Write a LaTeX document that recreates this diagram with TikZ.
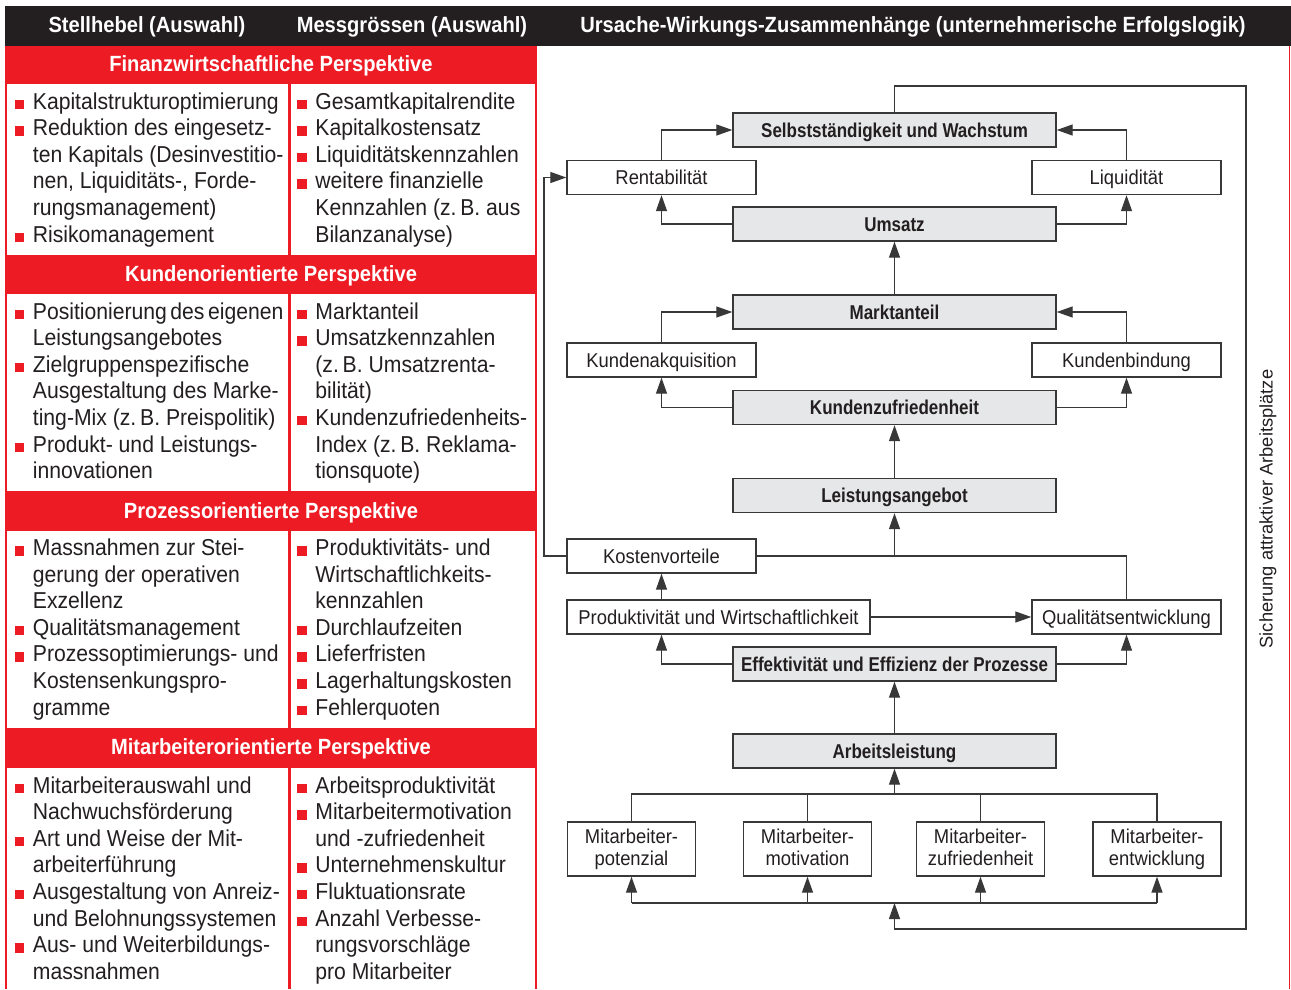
\documentclass[tikz,border=0pt]{standalone}
\usepackage{fontspec}
\setmainfont{Liberation Sans}
\newfontfamily\tabfont[FakeStretch=0.92]{Liberation Sans}
\newfontfamily\headfont[FakeStretch=0.915]{Liberation Sans}
\newfontfamily\dgfont[FakeStretch=0.92]{Liberation Sans}
\newfontfamily\dgbold[FakeStretch=0.85]{Liberation Sans}
\usetikzlibrary{arrows.meta}
\definecolor{hebred}{HTML}{ED1C24}
\definecolor{hdblack}{HTML}{231F20}
\definecolor{boxgray}{HTML}{E6E7E8}
\definecolor{linegray}{HTML}{383838}
\newcommand{\rsq}{\textcolor{hebred}{\rule{9.5pt}{9.5pt}}}
\newcommand{\itemlist}[1]{\begin{tabular}[t]{@{}p{18.2pt}@{}l@{}}#1\end{tabular}}
\begin{document}
\begin{tikzpicture}[x=1pt,y=-1pt,
  hdtext/.style={text=white, inner sep=0pt, anchor=base,
    font=\headfont\bfseries\fontsize{22}{26}\selectfont},
  cell/.style={anchor=base west, inner sep=0pt, text=hdblack,
    font=\tabfont\fontsize{23}{26.6}\selectfont},
  gbox/.style={draw=linegray, line width=1.4pt, fill=boxgray,
    minimum width=323pt, minimum height=34pt, inner sep=0pt,
    text height=14pt, text depth=0pt, text=hdblack,
    font=\dgbold\bfseries\fontsize{20}{22}\selectfont},
  wbox/.style={draw=linegray, line width=1.4pt, fill=white,
    minimum width=189pt, minimum height=34pt, inner sep=0pt,
    text height=14pt, text depth=0pt, text=hdblack,
    font=\dgfont\fontsize{20}{22}\selectfont},
  mbox/.style={draw=linegray, line width=1.4pt, fill=white,
    minimum width=128pt, minimum height=54pt, inner sep=0pt,
    align=center, text=hdblack,
    font=\dgfont\fontsize{20}{22}\selectfont},
  conn/.style={draw=linegray, line width=1.3pt},
  arr/.style={conn, -{Triangle[length=16pt,width=11pt]}}
]
\useasboundingbox (0,0) rectangle (1291,989);
\fill[white] (0,0) rectangle (1291,989);

% header bar
\fill[hdblack] (5,6) rectangle (1291,46);
\node[hdtext] (hStell) at (147,32.5) {Stellhebel (Auswahl)};
\node[hdtext] (hMess) at (412,32.5) {Messgrössen (Auswahl)};
\node[hdtext] (hUrs) at (913,32.5) {Ursache-Wirkungs-Zusammenhänge (unternehmerische Erfolgslogik)};

% left table: red panel with white cells
\fill[hebred] (5,46) rectangle (537,989);
\foreach \ya/\yb in {84/255, 294/491, 531/728, 768/989} {
  \fill[white] (7,\ya) rectangle (288,\yb);
  \fill[white] (290.5,\ya) rectangle (535,\yb);
}
\draw[hebred, line width=1pt] (1289.5,46) -- (1289.5,989);

\node[hdtext] (bFin) at (271,71) {Finanzwirtschaftliche Perspektive};
\node[hdtext] (bKun) at (271,281) {Kundenorientierte Perspektive};
\node[hdtext] (bPro) at (271,518) {Prozessorientierte Perspektive};
\node[hdtext] (bMit) at (271,754.5) {Mitarbeiterorientierte Perspektive};

% financial perspective
\node[cell] (fL) at (14.5,109) {\itemlist{
\rsq & Kapitalstrukturoptimierung\\
\rsq & Reduktion des eingesetz-\\
& ten Kapitals (Desinvestitio-\\
& nen, Liquiditäts-, Forde-\\
& rungsmanagement)\\
\rsq & Risikomanagement}};
\node[cell] (fR) at (297,109) {\itemlist{
\rsq & Gesamtkapitalrendite\\
\rsq & Kapitalkostensatz\\
\rsq & Liquiditätskennzahlen\\
\rsq & weitere finanzielle\\
& Kennzahlen (z.\,B. aus\\
& Bilanzanalyse)}};

% customer perspective
\node[cell] (kL) at (14.5,319) {\itemlist{
\rsq & Positionierung\hspace{3.5pt}des\hspace{3.5pt}eigenen\\
& Leistungsangebotes\\
\rsq & Zielgruppenspezifische\\
& Ausgestaltung des Marke-\\
& ting-Mix (z.\,B. Preispolitik)\\
\rsq & Produkt- und Leistungs-\\
& innovationen}};
\node[cell] (kR) at (297,319) {\itemlist{
\rsq & Marktanteil\\
\rsq & Umsatzkennzahlen\\
& (z.\,B. Umsatzrenta-\\
& bilität)\\
\rsq & Kundenzufriedenheits-\\
& Index (z.\,B. Reklama-\\
& tionsquote)}};

% process perspective
\node[cell] (pL) at (14.5,555.5) {\itemlist{
\rsq & Massnahmen zur Stei-\\
& gerung der operativen\\
& Exzellenz\\
\rsq & Qualitätsmanagement\\
\rsq & Prozessoptimierungs- und\\
& Kostensenkungspro-\\
& gramme}};
\node[cell] (pR) at (297,555.5) {\itemlist{
\rsq & Produktivitäts- und\\
& Wirtschaftlichkeits-\\
& kennzahlen\\
\rsq & Durchlaufzeiten\\
\rsq & Lieferfristen\\
\rsq & Lagerhaltungskosten\\
\rsq & Fehlerquoten}};

% employee perspective
\node[cell] (mL) at (14.5,793) {\itemlist{
\rsq & Mitarbeiterauswahl und\\
& Nachwuchsförderung\\
\rsq & Art und Weise der Mit-\\
& arbeiterführung\\
\rsq & Ausgestaltung von Anreiz-\\
& und Belohnungssystemen\\
\rsq & Aus- und Weiterbildungs-\\
& massnahmen}};
\node[cell] (mR) at (297,793) {\itemlist{
\rsq & Arbeitsproduktivität\\
\rsq & Mitarbeitermotivation\\
& und -zufriedenheit\\
\rsq & Unternehmenskultur\\
\rsq & Fluktuationsrate\\
\rsq & Anzahl Verbesse-\\
& rungsvorschläge\\
& pro Mitarbeiter}};

% cause-and-effect chain
\node[gbox] (sw)  at (894.5,130)   {Selbstständigkeit und Wachstum};
\node[gbox] (ums) at (894.5,224)   {Umsatz};
\node[gbox] (mkt) at (894.5,312)   {Marktanteil};
\node[gbox] (kzf) at (894.5,407.5) {Kundenzufriedenheit};
\node[gbox] (lst) at (894.5,495.5) {Leistungsangebot};
\node[gbox] (eff) at (894.5,664)   {Effektivität und Effizienz der Prozesse};
\node[gbox] (arb) at (894.5,751)   {Arbeitsleistung};

\node[wbox] (ren)  at (661.5,177.5)  {Rentabilität};
\node[wbox] (liq)  at (1126.5,177.5) {Liquidität};
\node[wbox] (kak)  at (661.5,360)    {Kundenakquisition};
\node[wbox] (kbi)  at (1126.5,360)   {Kundenbindung};
\node[wbox] (kos)  at (661.5,556)    {Kostenvorteile};
\node[wbox, minimum width=303pt] (prod) at (718.5,617) {Produktivität und Wirtschaftlichkeit};
\node[wbox] (qual) at (1126.5,617)   {Qualitätsentwicklung};

\node[mbox] (m1) at (631.5,849) {Mitarbeiter-\\potenzial};
\node[mbox] (m2) at (807.5,849) {Mitarbeiter-\\motivation\vphantom{p}};
\node[mbox] (m3) at (980.5,849) {Mitarbeiter-\\zufriedenheit\vphantom{p}};
\node[mbox] (m4) at (1157,849)  {Mitarbeiter-\\entwicklung};

\node[rotate=90, inner sep=0pt, text=hdblack, font=\fontsize{18.3}{22}\selectfont]
  (sich) at (1268,509) {Sicherung attraktiver Arbeitsplätze};

% financial links
\draw[arr] (ren.north) |- (sw.west);
\draw[arr] (liq.north) |- (sw.east);
\draw[arr] (ums.west) -| (ren.south);
\draw[arr] (ums.east) -| (liq.south);
\draw[arr] (mkt.north) -- (ums.south);

% customer links
\draw[arr] (kak.north) |- (mkt.west);
\draw[arr] (kbi.north) |- (mkt.east);
\draw[arr] (kzf.west) -| (kak.south);
\draw[arr] (kzf.east) -| (kbi.south);
\draw[arr] (lst.north) -- (kzf.south);

% process links
\coordinate (kosJ) at (lst.south |- kos.east);
\draw[conn] (kos.east) -- (qual.north |- kos.east) -- (qual.north);
\draw[arr] (kosJ) -- (lst.south);
\draw[arr] (kos.south |- prod.north) -- (kos.south);
\draw[arr] (prod.east) -- (qual.west);
\draw[arr] (eff.west) -| (kos.south |- prod.south);
\draw[arr] (eff.east) -| (qual.south);
\draw[arr] (arb.north) -- (eff.south);

% employee links
\coordinate (topBus) at (894.5,794);
\coordinate (botBus) at (894.5,903);
\draw[conn] (m1.north) -- (m1.north |- topBus) -- (m4.north |- topBus) -- (m4.north);
\draw[conn] (m2.north) -- (m2.north |- topBus);
\draw[conn] (m3.north) -- (m3.north |- topBus);
\draw[arr] (topBus) -- (arb.south);
\draw[conn] (m1.south |- botBus) -- (m4.south |- botBus);
\foreach \m in {m1,m2,m3,m4} {
  \draw[arr] (\m.south |- botBus) -- (\m.south);
}

% feedback loops
\coordinate (loopNE) at (1246,86);
\coordinate (loopSE) at (1246,929);
\draw[arr] (sw.north) |- (loopNE) -- (loopSE) -| (botBus);
\coordinate (loopW) at (544,556);
\draw[arr] (kos.west) -- (loopW) |- (ren.west);
\end{tikzpicture}
\end{document}
